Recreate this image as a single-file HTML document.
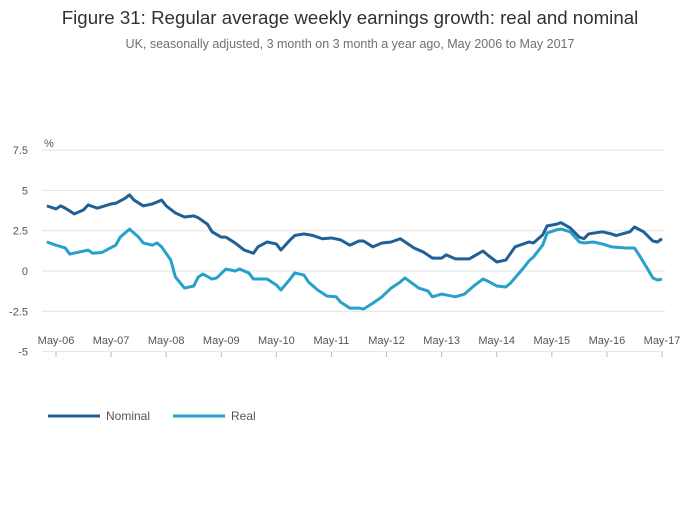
<!DOCTYPE html>
<html><head><meta charset="utf-8"><style>
body{margin:0;background:#fff;font-family:"Liberation Sans",sans-serif}
svg text{font-family:"Liberation Sans",sans-serif}
</style></head><body>
<svg width="700" height="502">
<text x="350" y="24" text-anchor="middle" font-size="18.7" fill="#323132">Figure 31: Regular average weekly earnings growth: real and nominal</text>
<text x="350" y="48" text-anchor="middle" font-size="12.5" fill="#707071">UK, seasonally adjusted, 3 month on 3 month a year ago, May 2006 to May 2017</text>
<text x="44" y="147" font-size="11" fill="#555">%</text>
<g id="grid"></g><g id="xaxis"></g><g id="series"></g>
<g>
<line x1="48" y1="416" x2="100" y2="416" stroke="#206095" stroke-width="3"/>
<text x="106" y="420" font-size="12" fill="#555">Nominal</text>
<line x1="173" y1="416" x2="225" y2="416" stroke="#27a0cc" stroke-width="3"/>
<text x="231" y="420" font-size="12" fill="#555">Real</text>
</g>
</svg>
<script>
const yTicks=[7.5,5,2.5,0,-2.5,-5];
const yTickLabels=["7.5","5","2.5","0","-2.5","-5"];
const xTickMonths=[0,12,24,36,48,60,72,84,96,108,120,132];
const xTickLabels=["May-06","May-07","May-08","May-09","May-10","May-11","May-12","May-13","May-14","May-15","May-16","May-17"];
// months since May 2006
const nominalMonths=[-2,0,1,2,4,6,7,9,12,13,15,16,17,19,21,23,24,26,28,30,31,33,34,36,37,39,41,43,44,46,48,49,51,52,54,56,58,60,62,64,66,67,69,71,73,75,78,80,82,84,85,87,90,93,94,96,98,100,103,104,106,107,109,110,112,114,115,116,119,121,122,125,126,128,130,131,132];
const nominalValues=[4.04,3.85,4.04,3.9,3.54,3.79,4.1,3.9,4.16,4.2,4.5,4.72,4.4,4.04,4.16,4.4,4.04,3.6,3.35,3.42,3.3,2.9,2.43,2.1,2.1,1.74,1.3,1.1,1.5,1.8,1.68,1.3,1.93,2.2,2.3,2.2,2.0,2.05,1.93,1.6,1.86,1.86,1.5,1.74,1.8,2.0,1.43,1.18,0.8,0.8,1.0,0.75,0.75,1.24,1.0,0.56,0.68,1.5,1.8,1.74,2.24,2.8,2.9,3.0,2.67,2.1,2.0,2.3,2.43,2.3,2.2,2.43,2.73,2.43,1.86,1.8,2.0];
const realMonths=[-2,0,2,3,7,8,10,13,14,16,18,19,21,22,23,25,26,28,30,31,32,34,35,37,39,40,42,43,46,48,49,51,52,54,55,57,59,61,62,64,66,67,69,71,73,75,76,79,81,82,84,87,89,91,93,94,96,98,99,102,103,104,106,107,109,110,112,114,115,117,119,121,124,126,127,129,130,131,132];
const realValues=[1.8,1.6,1.43,1.05,1.3,1.1,1.15,1.6,2.1,2.6,2.1,1.74,1.6,1.74,1.5,0.68,-0.37,-1.06,-0.93,-0.37,-0.19,-0.5,-0.43,0.12,0,0.12,-0.12,-0.5,-0.5,-0.87,-1.18,-0.5,-0.12,-0.25,-0.68,-1.18,-1.55,-1.6,-1.93,-2.3,-2.3,-2.36,-2.0,-1.6,-1.06,-0.68,-0.43,-1.06,-1.24,-1.6,-1.43,-1.6,-1.43,-0.93,-0.5,-0.62,-0.93,-0.99,-0.75,0.25,0.62,0.87,1.6,2.36,2.55,2.6,2.43,1.8,1.74,1.8,1.68,1.5,1.43,1.43,1.0,0.06,-0.43,-0.56,-0.5];
const NS="http://www.w3.org/2000/svg";
const xs=m=>56+m*(606/132);
const ys=v=>271-v*16.12;
function mk(t,a,p){const e=document.createElementNS(NS,t);for(const k in a)e.setAttribute(k,a[k]);p.appendChild(e);return e;}
const grid=document.getElementById('grid');
yTicks.forEach((v,i)=>{
  const l=mk('line',{x1:42,x2:665,y1:ys(v),y2:ys(v),stroke:'#e2e2e3','stroke-width':1},grid);
  
  
  const t=mk('text',{x:28,y:ys(v)+4,'text-anchor':'end','font-size':11,fill:'#555'},grid);
  t.textContent=yTickLabels[i];
  
  
});
const xa=document.getElementById('xaxis');
xTickMonths.forEach((m,i)=>{
  const l=mk('line',{x1:xs(m),x2:xs(m),y1:352,y2:357,stroke:'#bbb'},xa);
  
  
  const t=mk('text',{x:xs(m),y:344,'text-anchor':'middle','font-size':11,fill:'#555'},xa);
  t.textContent=xTickLabels[i];
  
  
});
const sg=document.getElementById('series');
function line(ms,vs,c,name){
  const p=mk('polyline',{points:ms.map((m,i)=>xs(m)+','+ys(vs[i])).join(' '),fill:'none',stroke:c,'stroke-width':3,'stroke-linejoin':'round'},sg);
  
  
}
line(realMonths,realValues,'#27a0cc','real-line');
line(nominalMonths,nominalValues,'#206095','nominal-line');
</script>
</body></html>
